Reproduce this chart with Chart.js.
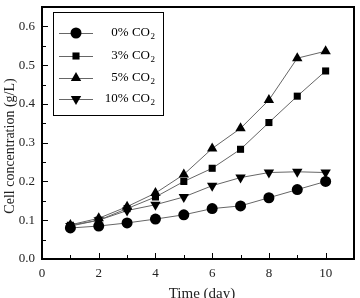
<!DOCTYPE html>
<html>
<head>
<meta charset="utf-8">
<script src="https://cdn.jsdelivr.net/npm/chart.js@4.4.1/dist/chart.umd.min.js"></script>
<style>
  html, body { margin: 0; padding: 0; background: #fff; }
  #wrap { width: 360px; height: 298px; position: relative; }
</style>
</head>
<body>
<div id="wrap"><canvas id="chart"></canvas></div>
<script>
// Data
const days = [1, 2, 3, 4, 5, 6, 7, 8, 9, 10];
const co2_0 = [0.080, 0.085, 0.093, 0.103, 0.114, 0.130, 0.137, 0.158, 0.179, 0.200];
const co2_3 = [0.087, 0.100, 0.130, 0.160, 0.200, 0.234, 0.283, 0.352, 0.420, 0.485];
const co2_5 = [0.088, 0.105, 0.135, 0.170, 0.218, 0.285, 0.337, 0.410, 0.518, 0.536];
const co2_10 = [0.085, 0.100, 0.125, 0.140, 0.160, 0.189, 0.210, 0.223, 0.225, 0.223];
const seriesLabels = ['0% CO', '3% CO', '5% CO', '10% CO'];
const xTitle = 'Time (day)';
const yTitle = 'Cell concentration (g/L)';

const serif = '"Liberation Serif", "Times New Roman", serif';
const lineColor = '#666';

function makeSet(label, values, style, rot, radius) {
    return {
        label: label,
        data: days.map((d, i) => ({ x: d, y: values[i] })),
        borderColor: lineColor,
        borderWidth: 1,
        backgroundColor: '#000',
        pointBackgroundColor: '#000',
        pointBorderColor: '#000',
        pointBorderWidth: 0,
        pointStyle: style,
        pointRotation: rot,
        pointRadius: radius,
        tension: 0
    };
}

// Inward ticks, frame, axis titles and legend box
const framePlugin = {
    id: 'frame',
    afterDatasetsDraw(chart) {
        const ctx = chart.ctx;
        const a = chart.chartArea;
        const xs = chart.scales.x, ys = chart.scales.y;
        ctx.save();
        ctx.strokeStyle = '#000';
        ctx.lineWidth = 1;
        ctx.beginPath();
        xs.ticks.forEach(t => {
            const px = Math.round(xs.getPixelForValue(t.value)) + 0.5;
            const len = t.value % 2 === 0 ? 6 : 4;
            ctx.moveTo(px, a.bottom);
            ctx.lineTo(px, a.bottom - len);
        });
        ys.ticks.forEach(t => {
            const py = Math.round(ys.getPixelForValue(t.value)) + 0.5;
            const major = Math.abs(Math.round(t.value * 10) - t.value * 10) < 1e-6;
            ctx.moveTo(a.left, py);
            ctx.lineTo(a.left + (major ? 6 : 4), py);
        });
        ctx.stroke();

        // frame
        ctx.lineWidth = 2;
        ctx.strokeRect(a.left, a.top, a.right - a.left, a.bottom - a.top);

        // axis titles
        ctx.fillStyle = '#222';
        ctx.font = '15px ' + serif;
        ctx.textAlign = 'center';
        ctx.textBaseline = 'middle';
        ctx.fillText(xTitle, 202, 294);
        ctx.save();
        ctx.translate(10, 146);
        ctx.rotate(-Math.PI / 2);
        ctx.font = '14px ' + serif;
        ctx.fillText(yTitle, 0, 0);
        ctx.restore();

        // legend
        const lx = 53, ly = 12, lw = 110, lh = 103;
        ctx.fillStyle = '#fff';
        ctx.fillRect(lx, ly, lw, lh);
        ctx.lineWidth = 1;
        ctx.strokeStyle = '#000';
        ctx.strokeRect(lx + 0.5, ly + 0.5, lw, lh);
        const rowY = [33, 56, 78, 99];
        chart.data.datasets.forEach((ds, i) => {
            const y = rowY[i];
            ctx.strokeStyle = lineColor;
            ctx.lineWidth = 1;
            ctx.beginPath();
            ctx.moveTo(59, y + 0.5);
            ctx.lineTo(93, y + 0.5);
            ctx.stroke();
            ctx.fillStyle = '#000';
            Chart.helpers.drawPoint(ctx, {
                pointStyle: ds.pointStyle,
                rotation: ds.pointRotation,
                radius: ds.pointRadius,
                borderWidth: 0
            }, 76, y);
            // text with subscript 2
            ctx.fillStyle = '#000';
            ctx.font = '13px ' + serif;
            ctx.textBaseline = 'middle';
            ctx.textAlign = 'right';
            ctx.fillText(seriesLabels[i], 150, y);
            ctx.font = '9px ' + serif;
            ctx.textAlign = 'left';
            ctx.fillText('2', 150.5, y + 4);
        });
        ctx.restore();
    }
};

new Chart(document.getElementById('chart'), {
    type: 'line',
    data: {
        datasets: [
            makeSet('0% CO2', co2_0, 'circle', 0, 5.5),
            makeSet('3% CO2', co2_3, 'rect', 0, 5),
            makeSet('5% CO2', co2_5, 'triangle', 0, 6),
            makeSet('10% CO2', co2_10, 'triangle', 180, 6)
        ]
    },
    options: {
        responsive: true,
        maintainAspectRatio: false,
        animation: false,
        layout: { padding: { top: 7, right: 5, left: 0, bottom: 0 } },
        plugins: {
            legend: { display: false },
            tooltip: { enabled: false }
        },
        scales: {
            x: {
                type: 'linear',
                min: 0,
                max: 11,
                border: { display: false },
                grid: { drawOnChartArea: false, drawTicks: false },
                ticks: {
                    stepSize: 1,
                    color: '#222',
                    font: { family: serif, size: 13 },
                    padding: 7,
                    maxRotation: 0,
                    autoSkip: false,
                    callback: v => (v % 2 === 0 && v <= 10) ? String(v) : ''
                },
                afterFit: s => { s.height = 39; s.paddingRight = 0; }
            },
            y: {
                type: 'linear',
                min: 0,
                max: 0.65,
                border: { display: false },
                grid: { drawOnChartArea: false, drawTicks: false },
                ticks: {
                    stepSize: 0.05,
                    color: '#222',
                    font: { family: serif, size: 13 },
                    padding: 7,
                    autoSkip: false,
                    callback: v => {
                        const k = Math.round(v * 100);
                        return (k % 10 === 0 && k <= 60) ? (k / 100).toFixed(1) : '';
                    }
                },
                afterFit: s => { s.width = 42; s.paddingTop = 0; s.paddingBottom = 0; }
            }
        }
    },
    plugins: [framePlugin]
});
</script>
</body>
</html>
